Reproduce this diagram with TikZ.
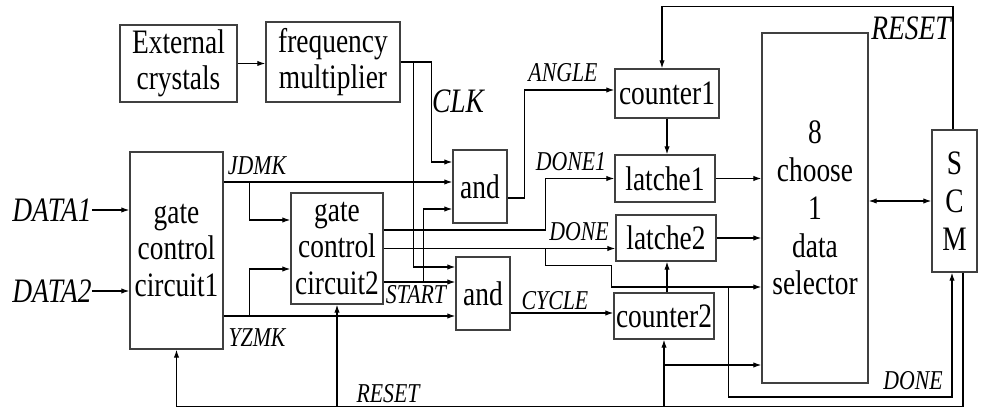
\documentclass[tikz,border=0pt]{standalone}
\usepackage{fontspec}
\setmainfont{Liberation Serif}[FakeStretch=0.8]
\usetikzlibrary{arrows.meta}
\newcommand\boxfont{\fontsize{19.5}{20.5}\selectfont}
\newcommand\tallfont{\fontsize{19.5}{21.5}\selectfont}
\newcommand\sigfont{\fontsize{15.5}{16}\selectfont\itshape}
\newcommand\bigsigfont{\fontsize{19.5}{20}\selectfont\itshape}
\tikzset{
  blk/.style={draw=black!75, line width=0.8pt, inner sep=0pt,
              align=center, font=\boxfont},
  wire/.style={line width=0.6pt},
  arr/.style={wire, -{Latex[length=4.5pt,width=3pt]}},
  dbl/.style={wire, {Latex[length=4.5pt,width=3pt]}-{Latex[length=4.5pt,width=3pt]}},
  sig/.style={inner sep=0pt, font=\sigfont},
  bigsig/.style={inner sep=0pt, font=\bigsigfont},
}

\begin{document}
\begin{tikzpicture}[x=0.2mm, y=-0.2mm]
    \useasboundingbox (0,0) rectangle (981,408);
    % blocks
    \node[blk, minimum width=23.4mm, minimum height=15.4mm] (ext) at (178.5,63.5) {External\\crystals};
    \node[blk, minimum width=26.8mm, minimum height=16mm] (freq) at (333,62) {frequency\\multiplier};
    \node[blk, minimum width=18.6mm, minimum height=39.4mm] (circ1) at (176.5,250.5) {gate\\control\\circuit1};
    \node[blk, minimum width=18.4mm, minimum height=22.2mm] (circ2) at (337,248.5) {gate\\control\\circuit2};
    \node[blk, minimum width=10.8mm, minimum height=14.6mm] (and1) at (480,186.5) {and};
    \node[blk, minimum width=10.8mm, minimum height=14.6mm] (and2) at (483,293.5) {and};
    \node[blk, minimum width=20.8mm, minimum height=9.8mm] (cnt1) at (667,93.5) {counter1};
    \node[blk, minimum width=20mm, minimum height=9.4mm] (l1) at (665,178.5) {latche1};
    \node[blk, minimum width=20mm, minimum height=9.2mm] (l2) at (666,238) {latche2};
    \node[blk, minimum width=20mm, minimum height=9.2mm] (cnt2) at (664,316) {counter2};
    \node[blk, font=\tallfont, minimum width=21.2mm, minimum height=70mm] (mux) at (815,208) {8\\choose\\1\\data\\selector};
    \node[blk, font=\tallfont, minimum width=9mm, minimum height=28.4mm] (scm) at (954.5,201) {S\\C\\M};

    % inputs
    \node[bigsig] (d1) at (52,210) {DATA1};
    \node[bigsig] (d2) at (52,291) {DATA2};
    \draw[arr] (d1.east) -- (d1.east -| circ1.west);
    \draw[arr] (d2.east) -- (d2.east -| circ1.west);
    \draw[arr] (ext.east) -- (ext.east -| freq.west);

    % clock
    \draw[arr] (freq.east) -- ++(31,0) |- ([yshift=4.9mm]and1.west);
    \draw[arr] ([xshift=2.6mm]freq.east) |- ([yshift=5.3mm]and2.west);

    % gate control circuit1 outputs
    \coordinate (jd) at ([yshift=13.7mm]circ1.east);
    \coordinate (yz) at ([yshift=-13.1mm]circ1.east);
    \draw[arr] (jd) -- (jd -| and1.west);
    \draw[arr] ([xshift=5.2mm]jd) |- ([yshift=5.7mm]circ2.west);
    \draw[arr] (yz) -- (yz -| and2.west);
    \draw[arr] ([xshift=5.2mm]yz) |- ([yshift=-4.1mm]circ2.west);

    % gate control circuit2 outputs
    \coordinate (st) at ([yshift=-6.7mm]circ2.east);
    \coordinate (mxi1) at ([yshift=-15.8mm]mux.west);
    \coordinate (mxi2) at ([yshift=-31.4mm]mux.west);
    \draw[arr] ([yshift=3.7mm]circ2.east) -- ++(162,0) |- (l1.west);
    \draw[arr] (circ2.east) -- (circ2.east -| l2.west);
    \draw[arr] ([xshift=32.4mm]circ2.east) -- ++(0,17) -- ++(66,0) |- (mxi1);
    \draw[arr] ([xshift=-6.6mm]mxi1) -- ++(0,110) -| ([xshift=-0.5mm]scm.south);
    \draw[arr] (st) -- (st -| and2.west);
    \draw[arr] ([xshift=8mm]st) |- ([yshift=-4.5mm]and1.west);

    % and gates
    \draw[arr] ([yshift=-2.3mm]and1.east) -- ++(17,0) |- ([yshift=0.7mm]cnt1.west);
    \draw[arr] ([yshift=-3.9mm]and2.east) -- ([yshift=-3.9mm]and2.east -| cnt2.west);

    % counters, latches, selector
    \draw[arr] (cnt1.south) -- (cnt1.south |- l1.north);
    \draw[arr] ([xshift=0.6mm]cnt2.north) -- ([xshift=0.6mm]cnt2.north |- l2.south);
    \draw[arr] (l1.east) -- (l1.east -| mux.west);
    \draw[arr] (l2.east) -- (l2.east -| mux.west);
    \draw[dbl] (scm.west -| mux.east) -- (scm.west);

    % reset lines
    \draw[arr] ([xshift=-0.3mm]scm.north) -- ++(0,-123) -| ([xshift=-1mm]cnt1.north);
    \draw[arr] ([xshift=1.7mm]scm.south) -- ++(0,134) coordinate (rb) -| (circ1.south);
    \draw[arr] (rb -| circ2.south) -- (circ2.south);
    \draw[arr] (rb -| cnt2.south) -- (cnt2.south);
    \draw[arr] (cnt2.south |- mxi2) -- (mxi2);

    % signal names
    \node[bigsig] (clk) at (458,101) {CLK};
    \node[bigsig] (rst1) at (911,28) {RESET};
    \node[sig] (angle) at (563,73) {ANGLE};
    \node[sig] (jdmk) at (257,166) {JDMK};
    \node[sig] (yzmk) at (257,338) {YZMK};
    \node[sig] (done1) at (571,162) {DONE1};
    \node[sig] (done) at (579,232) {DONE};
    \node[sig] (start) at (416,295) {START};
    \node[sig] (cycle) at (555,301) {CYCLE};
    \node[sig] (rst2) at (388,394) {RESET};
    \node[sig] (done2) at (913,381) {DONE};
  \end{tikzpicture}
\end{document}
